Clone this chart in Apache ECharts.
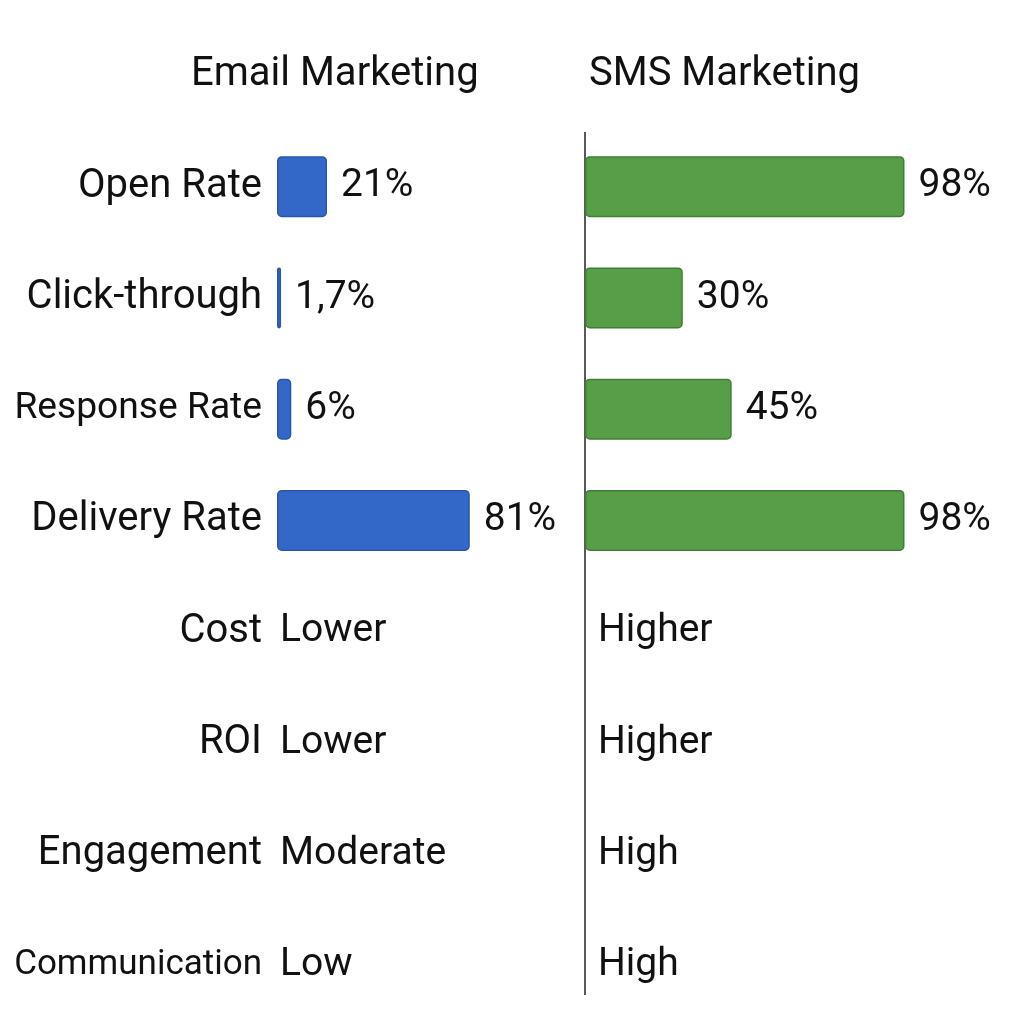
<!DOCTYPE html>
<html>
<head>
<meta charset="utf-8">
<title>Email vs SMS Marketing</title>
<script src="https://cdn.jsdelivr.net/npm/echarts@6/dist/echarts.min.js"></script>
<style>
  html, body { margin: 0; padding: 0; background: #fff; }
  #main { width: 1024px; height: 1024px; }
</style>
</head>
<body>
<div id="main"></div>
<script>
const metricNames = ["Open Rate", "Click-through", "Response Rate", "Delivery Rate"];
const ratingNames = ["Cost", "ROI", "Engagement", "Communication"];
const emailRates = [21, 1.7, 6, 81];
const smsRates = [98, 30, 45, 98];
const emailRateLabels = ["21%", "1,7%", "6%", "81%"];
const smsRateLabels = ["98%", "30%", "45%", "98%"];
const emailRatings = ["Lower", "Lower", "Moderate", "Low"];
const smsRatings = ["Higher", "Higher", "High", "High"];

const rows = metricNames.concat(ratingNames);
const font = "Roboto, 'Liberation Sans', sans-serif";
const ink = "#111";

// shrink long row names so they fit in the label column
const measureCtx = document.createElement("canvas").getContext("2d");
function fitSize(text, base, room) {
  measureCtx.font = base + "px " + font;
  const w = measureCtx.measureText(text).width;
  return w > room ? Math.floor((base * room) / w * 10) / 10 : base;
}
const rowRich = {};
rows.forEach((name, i) => {
  rowRich["r" + i] = { color: ink, fontFamily: font, fontSize: fitSize(name, 40, 248) };
});

function valueAxis(gridIndex) {
  return {
    type: "value",
    gridIndex: gridIndex,
    min: 0,
    max: 100,
    show: false,
  };
}

function rowAxis(gridIndex, showLabels) {
  return {
    type: "category",
    gridIndex: gridIndex,
    data: rows,
    inverse: true,
    axisLine: { show: false },
    axisTick: { show: false },
    splitLine: { show: false },
    axisLabel: {
      show: showLabels,
      color: ink,
      fontFamily: font,
      fontSize: 40,
      margin: 15,
      formatter: (v, i) => "{r" + i + "|" + v + "}",
      rich: rowRich,
    },
  };
}

function rateBars(axisIndex, values, labels, fill, edge) {
  return {
    type: "bar",
    xAxisIndex: axisIndex,
    yAxisIndex: axisIndex,
    data: values,
    barWidth: 61,
    itemStyle: {
      color: fill,
      borderColor: edge,
      borderWidth: 1.5,
      borderRadius: 4,
    },
    label: {
      show: true,
      position: "right",
      distance: 14,
      color: ink,
      fontFamily: font,
      fontSize: 39,
      formatter: (p) => labels[p.dataIndex],
    },
    silent: true,
  };
}

function ratingText(axisIndex, ratings, gap) {
  return {
    type: "scatter",
    xAxisIndex: axisIndex,
    yAxisIndex: axisIndex,
    symbolSize: 0,
    itemStyle: { opacity: 1 },
    data: ratingNames.map((name, i) => ({ value: [0, name], text: ratings[i] })),
    label: {
      show: true,
      position: "right",
      distance: gap,
      color: ink,
      opacity: 1,
      fontFamily: font,
      fontSize: 39,
      formatter: (p) => p.data.text,
    },
    silent: true,
  };
}

const chart = echarts.init(document.getElementById("main"));
chart.setOption({
  backgroundColor: "#fff",
  animation: false,
  title: [
    {
      text: "Email Marketing",
      left: 186,
      top: 50,
      textStyle: { color: ink, fontFamily: font, fontSize: 40, fontWeight: "normal" },
    },
    {
      text: "SMS Marketing",
      left: 584,
      top: 50,
      textStyle: { color: ink, fontFamily: font, fontSize: 40, fontWeight: "normal" },
    },
  ],
  grid: [
    { left: 277, top: 131, width: 238, height: 890, containLabel: false, outerBoundsMode: "none" },
    { left: 585, top: 131, width: 326, height: 890, containLabel: false, outerBoundsMode: "none" },
  ],
  xAxis: [valueAxis(0), valueAxis(1)],
  yAxis: [rowAxis(0, true), rowAxis(1, false)],
  series: [
    rateBars(0, emailRates, emailRateLabels, "#3468C8", "#2A56A8"),
    rateBars(1, smsRates, smsRateLabels, "#589E48", "#3F7F34"),
    ratingText(0, emailRatings, 3),
    ratingText(1, smsRatings, 13),
  ],
  graphic: [
    {
      type: "line",
      shape: { x1: 585, y1: 132, x2: 585, y2: 995 },
      style: { stroke: "#222", lineWidth: 1.5 },
      silent: true,
    },
  ],
});
</script>
</body>
</html>
